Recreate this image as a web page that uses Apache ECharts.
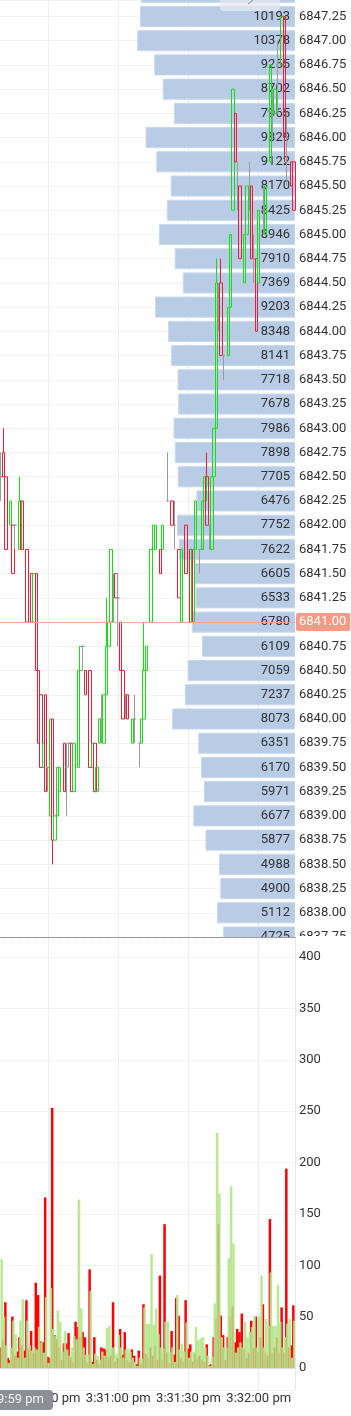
<!DOCTYPE html>
<html>
<head>
<meta charset="utf-8">
<style>
  html, body { margin: 0; padding: 0; background: #fff; }
  #chart { width: 351px; height: 1416px; }
</style>
<script src="https://cdn.jsdelivr.net/npm/echarts/dist/echarts.min.js"></script>
</head>
<body>
<div id="chart"></div>
<script>
const upColor = '#17dc17';
const downColor = '#ec1c3c';
const dojiColor = '#9a9a9a';
const FONT = 'Roboto';

// one category per second, 3:30:10 pm .. 3:32:15 pm
const firstSecond = 10;
const secondCount = 126;
const times = [];
for (let i = 0; i < secondCount; i++) {
  const t = firstSecond + i;
  const m = 30 + Math.floor(t / 60);
  const s = t % 60;
  times.push('3:' + m + ':' + (s < 10 ? '0' + s : s) + ' pm');
}

// [second index, open, close, low, high]
const candles = [
  [0, 6842.50, 6842.50, 6842.25, 6842.75], [1, 6842.75, 6842.50, 6842.50, 6843.00],
  [2, 6842.50, 6841.75, 6841.75, 6842.50], [4, 6842.00, 6842.25, 6842.00, 6842.25],
  [5, 6842.00, 6841.50, 6841.50, 6842.00], [6, 6842.00, 6842.00, 6841.75, 6842.00],
  [8, 6841.75, 6842.25, 6841.75, 6842.50], [9, 6842.25, 6841.75, 6841.75, 6842.25],
  [11, 6841.75, 6841.00, 6841.00, 6841.75], [13, 6841.50, 6841.00, 6841.00, 6841.50],
  [14, 6841.00, 6841.50, 6841.00, 6841.50], [15, 6841.50, 6840.50, 6840.50, 6841.50],
  [16, 6840.50, 6839.75, 6839.75, 6840.50], [17, 6840.25, 6839.50, 6839.50, 6840.25],
  [18, 6839.50, 6839.75, 6839.50, 6839.75], [19, 6840.25, 6839.25, 6839.25, 6840.25],
  [20, 6839.50, 6839.50, 6839.25, 6839.50], [21, 6839.00, 6840.00, 6839.00, 6840.00],
  [22, 6840.00, 6838.75, 6838.50, 6840.00], [23, 6838.75, 6839.00, 6838.75, 6839.00],
  [24, 6839.00, 6839.50, 6839.00, 6839.50], [25, 6839.25, 6839.50, 6839.25, 6839.50],
  [27, 6839.75, 6839.25, 6839.25, 6839.75], [28, 6839.50, 6839.50, 6839.00, 6839.75],
  [29, 6839.75, 6839.75, 6839.50, 6839.75], [30, 6839.75, 6839.25, 6839.25, 6839.75],
  [31, 6839.25, 6839.75, 6839.25, 6839.75], [33, 6839.50, 6840.50, 6839.50, 6840.50],
  [34, 6840.50, 6840.75, 6840.50, 6840.75], [35, 6840.75, 6840.75, 6840.50, 6840.75],
  [36, 6840.50, 6840.25, 6840.25, 6840.50], [38, 6840.50, 6839.50, 6839.50, 6840.50],
  [39, 6839.50, 6839.75, 6839.50, 6839.75], [40, 6839.75, 6839.25, 6839.25, 6839.75],
  [41, 6839.25, 6839.50, 6839.25, 6839.50], [42, 6839.75, 6840.00, 6839.75, 6840.00],
  [43, 6840.00, 6840.00, 6839.75, 6840.25], [44, 6839.75, 6840.25, 6839.75, 6840.25],
  [45, 6840.25, 6840.75, 6840.25, 6841.25], [46, 6840.75, 6841.00, 6840.75, 6841.00],
  [47, 6841.00, 6841.75, 6841.00, 6841.75], [48, 6841.25, 6841.25, 6841.00, 6841.50],
  [49, 6841.50, 6841.25, 6841.25, 6841.50], [50, 6841.25, 6841.25, 6840.75, 6841.50],
  [51, 6841.00, 6840.50, 6840.50, 6841.00], [52, 6840.50, 6840.00, 6840.00, 6840.50],
  [53, 6840.25, 6840.25, 6840.00, 6840.25], [54, 6840.25, 6840.00, 6840.00, 6840.25],
  [56, 6839.75, 6840.00, 6839.75, 6840.00], [57, 6840.00, 6840.00, 6839.75, 6840.25],
  [59, 6839.75, 6839.75, 6839.50, 6839.75], [60, 6839.75, 6840.00, 6839.75, 6840.00],
  [61, 6840.00, 6840.50, 6840.00, 6841.00], [62, 6840.50, 6840.75, 6840.50, 6840.75],
  [64, 6841.00, 6841.75, 6841.00, 6841.75], [65, 6841.75, 6842.00, 6841.75, 6842.00],
  [66, 6841.75, 6842.00, 6841.75, 6842.00], [68, 6841.75, 6841.50, 6841.50, 6841.75],
  [69, 6841.75, 6842.00, 6841.75, 6842.00], [71, 6842.25, 6842.25, 6842.25, 6842.75],
  [73, 6842.25, 6842.00, 6842.00, 6842.25], [74, 6842.00, 6842.00, 6841.75, 6842.25],
  [76, 6841.75, 6841.25, 6841.25, 6841.75], [77, 6841.00, 6841.75, 6841.00, 6841.75],
  [79, 6842.00, 6841.50, 6841.50, 6842.00], [81, 6841.75, 6841.00, 6841.00, 6841.75],
  [82, 6841.00, 6841.75, 6841.00, 6841.75], [83, 6841.75, 6842.25, 6841.75, 6842.25],
  [85, 6841.75, 6841.75, 6841.50, 6841.75], [86, 6841.75, 6842.25, 6841.75, 6842.25],
  [87, 6842.25, 6842.50, 6842.25, 6842.50], [88, 6842.50, 6842.00, 6842.00, 6842.75],
  [89, 6842.00, 6842.00, 6841.75, 6842.00], [90, 6841.75, 6842.50, 6841.75, 6842.50],
  [91, 6842.50, 6843.00, 6842.50, 6843.00], [92, 6843.00, 6844.50, 6843.00, 6844.75],
  [93, 6844.25, 6844.25, 6844.00, 6844.50], [94, 6844.50, 6843.75, 6843.75, 6844.75],
  [95, 6843.75, 6843.75, 6843.50, 6843.75], [97, 6843.75, 6844.25, 6843.75, 6844.25],
  [98, 6844.25, 6845.00, 6844.25, 6845.00], [99, 6845.25, 6846.50, 6845.25, 6846.50],
  [100, 6846.25, 6845.75, 6845.75, 6846.25], [101, 6845.50, 6845.50, 6845.25, 6845.75],
  [102, 6845.50, 6844.75, 6844.75, 6845.50], [104, 6844.50, 6845.00, 6844.50, 6845.00],
  [105, 6845.00, 6845.50, 6845.00, 6845.50], [106, 6845.50, 6845.50, 6845.25, 6845.75],
  [107, 6845.50, 6844.75, 6844.75, 6845.50], [108, 6844.75, 6844.75, 6844.50, 6845.00],
  [109, 6844.75, 6844.00, 6844.00, 6844.75], [110, 6844.50, 6845.25, 6844.50, 6845.25],
  [112, 6845.25, 6845.25, 6845.00, 6845.50], [113, 6845.00, 6845.50, 6845.00, 6845.50],
  [115, 6845.75, 6846.75, 6845.75, 6846.75], [116, 6846.25, 6846.25, 6846.00, 6846.50],
  [117, 6846.25, 6846.50, 6846.25, 6846.50], [118, 6846.75, 6846.75, 6846.25, 6847.00],
  [120, 6846.75, 6847.25, 6846.75, 6847.25], [121, 6847.25, 6846.00, 6845.75, 6847.25],
  [122, 6846.00, 6846.00, 6845.50, 6846.25], [124, 6845.75, 6845.50, 6845.50, 6845.75],
  [125, 6845.75, 6845.25, 6845.25, 6845.75]
];

// volume per second (sell = red, buy = green)
const volRed = [
  20, 28, 64, 10, 8, 50, 12, 16, 30, 22, 17, 66, 19, 36, 15, 83, 71, 26, 25, 166,
  11, 10, 253, 32, 28, 20, 8, 24, 24, 34, 10, 6, 45, 40, 30, 35, 30, 5, 96, 6,
  30, 8, 4, 20, 19, 18, 10, 12, 64, 6, 10, 38, 13, 35, 8, 6, 18, 12, 4, 17,
  4, 62, 14, 10, 20, 12, 22, 8, 90, 8, 140, 15, 5, 36, 13, 68, 51, 10, 6, 66,
  19, 23, 6, 14, 10, 12, 8, 6, 23, 3, 4, 30, 48, 140, 51, 32, 8, 30, 50, 60,
  25, 38, 35, 53, 18, 10, 15, 46, 20, 50, 15, 30, 62, 15, 12, 145, 15, 20, 30, 15,
  59, 15, 194, 20, 22, 61
];
const volGreen = [
  106, 50, 22, 5, 20, 46, 33, 10, 46, 67, 10, 46, 22, 17, 20, 18, 40, 25, 15, 69,
  5, 78, 38, 31, 56, 45, 16, 36, 18, 12, 20, 31, 28, 164, 58, 20, 13, 13, 75, 4,
  14, 12, 8, 16, 12, 39, 41, 20, 20, 14, 32, 20, 10, 18, 19, 16, 10, 6, 2, 10,
  9, 59, 43, 43, 111, 42, 58, 33, 20, 19, 45, 45, 16, 20, 6, 71, 18, 24, 16, 44,
  10, 16, 16, 40, 27, 29, 30, 20, 12, 2, 11, 63, 229, 170, 30, 20, 20, 107, 177, 121,
  15, 20, 25, 20, 45, 30, 35, 40, 50, 20, 50, 90, 20, 48, 41, 93, 41, 41, 81, 45,
  20, 30, 43, 48, 10, 46
];

// volume profile by price level
const profilePrices = [
  6847.50, 6847.25, 6847.00, 6846.75, 6846.50, 6846.25, 6846.00, 6845.75, 6845.50, 6845.25,
  6845.00, 6844.75, 6844.50, 6844.25, 6844.00, 6843.75, 6843.50, 6843.25, 6843.00, 6842.75,
  6842.50, 6842.25, 6842.00, 6841.75, 6841.50, 6841.25, 6841.00, 6840.75, 6840.50, 6840.25,
  6840.00, 6839.75, 6839.50, 6839.25, 6839.00, 6838.75, 6838.50, 6838.25, 6838.00, 6837.75
];
const profileVolumes = [
  10150, 10193, 10378, 9255, 8702, 7965, 9829, 9122, 8170, 8425,
  8946, 7910, 7369, 9203, 8348, 8141, 7718, 7678, 7986, 7898,
  7705, 6476, 7752, 7622, 6605, 6533, 6780, 6109, 7059, 7237,
  8073, 6351, 6170, 5971, 6677, 5877, 4988, 4900, 5112, 4725
];

const lastPrice = 6841.00;
const pointerTime = '3:29:59 pm';

const candleData = times.map(() => ['-', '-', '-', '-']);
candles.forEach(function (c) {
  candleData[c[0]] = [c[1], c[2], c[3], c[4]];
});

const isMark = function (index, value) {
  return /:(00|30) pm$/.test(value);
};

const chart = echarts.init(document.getElementById('chart'));

const option = {
  animation: false,
  textStyle: { fontFamily: FONT },
  grid: [
    { left: 0, right: 56, top: 0, height: 937 },
    { left: 0, right: 56, top: 937, height: 453 }
  ],
  xAxis: [
    {
      type: 'category',
      gridIndex: 0,
      data: times,
      axisLine: { lineStyle: { color: '#8a8a8a', type: 'dotted' } },
      axisTick: { show: false },
      axisLabel: { show: false },
      splitLine: { show: true, interval: isMark, alignWithLabel: true, lineStyle: { color: '#eeeeee' } }
    },
    {
      type: 'value',
      gridIndex: 0,
      inverse: true,
      min: 0,
      max: 19470,
      show: false
    },
    {
      type: 'category',
      gridIndex: 1,
      data: times,
      axisLine: { lineStyle: { color: '#dddddd' } },
      axisTick: { show: false },
      axisLabel: { interval: isMark, color: '#333', fontSize: 13, fontFamily: FONT, margin: 2 },
      splitLine: { show: true, interval: isMark, alignWithLabel: true, lineStyle: { color: '#eeeeee' } }
    }
  ],
  yAxis: [
    {
      type: 'value',
      gridIndex: 0,
      position: 'right',
      min: 6837.75,
      max: 6847.42,
      interval: 0.25,
      axisLine: { show: false },
      axisTick: { show: false },
      axisLabel: {
        color: '#333',
        fontSize: 13,
        fontFamily: FONT,
        margin: 4,
        showMaxLabel: false,
        formatter: function (v) { return v.toFixed(2); }
      },
      splitLine: { lineStyle: { color: '#f1f1f1' } }
    },
    {
      type: 'value',
      gridIndex: 1,
      position: 'right',
      min: -21.4,
      max: 419.5,
      splitNumber: 8,
      axisLine: { show: true, lineStyle: { color: '#e8e8e8' } },
      axisTick: { show: false },
      axisLabel: {
        color: '#333',
        fontSize: 13,
        fontFamily: FONT,
        margin: 4,
        showMinLabel: false,
        showMaxLabel: false
      },
      splitLine: { lineStyle: { color: '#f1f1f1' } }
    }
  ],
  series: [
    {
      name: 'profile',
      type: 'custom',
      xAxisIndex: 1,
      yAxisIndex: 0,
      clip: true,
      z: 1,
      encode: { x: 0, y: 1 },
      data: profilePrices.map(function (p, k) { return [profileVolumes[k], p]; }),
      renderItem: function (params, api) {
        const vol = api.value(0);
        const price = api.value(1);
        const end = api.coord([0, price]);
        const start = api.coord([vol, price]);
        const h = api.size([0, 0.25])[1] * 0.83;
        return {
          type: 'group',
          children: [
            {
              type: 'rect',
              shape: { x: start[0], y: start[1] - h / 2, width: end[0] - start[0], height: h },
              style: { fill: '#b8cce6', stroke: '#c9d8ec', lineWidth: 1 }
            },
            {
              type: 'text',
              x: end[0] - 5,
              y: end[1],
              style: {
                text: String(vol),
                align: 'right',
                verticalAlign: 'middle',
                fill: '#333',
                fontSize: 13,
                fontFamily: FONT
              }
            }
          ]
        };
      }
    },
    {
      name: 'price',
      type: 'candlestick',
      xAxisIndex: 0,
      yAxisIndex: 0,
      z: 3,
      barWidth: 3,
      data: candleData,
      itemStyle: {
        color: 'transparent',
        color0: 'transparent',
        borderColor: upColor,
        borderColor0: downColor,
        borderColorDoji: dojiColor,
        borderWidth: 1
      },
      markLine: {
        silent: true,
        symbol: ['none', 'none'],
        animation: false,
        data: [{ yAxis: lastPrice }],
        lineStyle: { color: '#f5a593', width: 1, type: 'solid' },
        label: {
          position: 'end',
          distance: 1,
          formatter: function (p) { return p.value.toFixed(2); },
          color: '#fff',
          backgroundColor: '#f59a84',
          padding: [3, 4, 2, 3],
          borderRadius: 2,
          fontSize: 13,
          fontFamily: FONT
        }
      }
    },
    {
      name: 'sell',
      type: 'bar',
      xAxisIndex: 2,
      yAxisIndex: 1,
      barWidth: 2.5,
      barGap: '-60%',
      data: volRed,
      itemStyle: { color: '#ff0000' }
    },
    {
      name: 'buy',
      type: 'bar',
      xAxisIndex: 2,
      yAxisIndex: 1,
      barWidth: 2.5,
      barGap: '-60%',
      data: volGreen,
      itemStyle: { color: '#b5e68b', opacity: 0.9 }
    }
  ],
  graphic: [
    {
      type: 'rect',
      z: 100,
      shape: { x: 220, y: -4, width: 60, height: 15, r: 4 },
      style: { fill: 'rgba(228,233,240,0.8)' }
    },
    {
      type: 'line',
      z: 101,
      shape: { x1: 248, y1: 4, x2: 253, y2: 0 },
      style: { stroke: '#888', lineWidth: 1 }
    },
    {
      type: 'rect',
      z: 100,
      shape: { x: 296, y: 936, width: 55, height: 11 },
      style: { fill: '#fff' }
    },
    {
      type: 'rect',
      z: 100,
      shape: { x: -20, y: 1390, width: 73, height: 20, r: 4 },
      style: { fill: '#8b9097' }
    },
    {
      type: 'text',
      z: 101,
      style: {
        text: pointerTime,
        x: 44,
        y: 1400,
        align: 'right',
        verticalAlign: 'middle',
        textAlign: 'right',
        textVerticalAlign: 'middle',
        fill: '#f2f2f2',
        fontSize: 13,
        fontFamily: FONT
      }
    }
  ]
};

chart.setOption(option);
</script>
</body>
</html>
